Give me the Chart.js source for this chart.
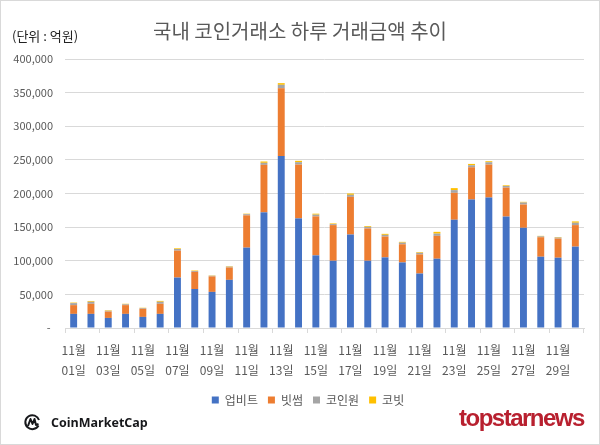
<!DOCTYPE html>
<html>
<head>
<meta charset="utf-8">
<script src="https://cdn.jsdelivr.net/npm/chart.js@4.4.1/dist/chart.umd.min.js"></script>
<style>
  body { margin: 0; background: #fff; }
  #frame { position: absolute; left: 0; top: 0; width: 600px; height: 445px; box-sizing: border-box; border: 1px solid #d9d9d9; pointer-events: none; }
  #wrap { position: absolute; left: 0; top: 0; width: 600px; height: 445px; }
  #title { position: absolute; left: 0; width: 600px; top: 16px; text-align: center; font-family: 'Noto Sans CJK KR', sans-serif; font-size: 20px; color: #595959; }
  #unit { position: absolute; left: 12px; top: 26px; font-family: 'Noto Sans CJK KR', sans-serif; font-size: 13px; color: #222; }
  #cmc { position: absolute; left: 24px; top: 413px; font-family: 'Open Sans', sans-serif; font-weight: bold; font-size: 12.5px; color: #17181b; display: flex; align-items: center; }
  #cmc svg { margin-right: 10px; }
  #tsn { position: absolute; left: 459px; top: 404px; font-family: 'Liberation Sans', sans-serif; font-weight: bold; font-size: 24px; letter-spacing: -1.5px; color: #b8202f; }
</style>
</head>
<body>
<div id="wrap"><canvas id="coinChart"></canvas></div>
<div id="title">국내 코인거래소 하루 거래금액 추이</div>
<div id="unit">(단위 : 억원)</div>
<div id="cmc">
  <svg width="17" height="19" viewBox="0 0 17 19">
    <path d="M14.5 12.5 A7 7 0 1 1 15 7" fill="none" stroke="#17181b" stroke-width="2"/>
    <path d="M4 13 L6.5 6 L8.5 11 L10.5 6 L12 12 L14.5 11" fill="none" stroke="#17181b" stroke-width="2" stroke-linejoin="round"/>
  </svg>CoinMarketCap</div>
<div id="tsn">topstarnews</div>
<div id="frame"></div>
<script>
// categories (one per day of November)
const days = [
  '11월 01일', '11월 02일', '11월 03일', '11월 04일', '11월 05일', '11월 06일',
  '11월 07일', '11월 08일', '11월 09일', '11월 10일', '11월 11일', '11월 12일',
  '11월 13일', '11월 14일', '11월 15일', '11월 16일', '11월 17일', '11월 18일',
  '11월 19일', '11월 20일', '11월 21일', '11월 22일', '11월 23일', '11월 24일',
  '11월 25일', '11월 26일', '11월 27일', '11월 28일', '11월 29일', '11월 30일'
];

// daily trading volume per exchange (억원)
const upbit = [21000, 21000, 15000, 21000, 16500, 21000, 75000, 58000, 53700, 71600,
  119500, 172000, 255600, 163000, 108000, 100000, 139000, 100000, 105000, 97500,
  81000, 103000, 161000, 191000, 194000, 165700, 149000, 106000, 104500, 121000];
const bithumb = [13000, 15000, 9400, 13000, 12000, 15000, 40000, 25500, 23000, 18400,
  48000, 70600, 101000, 80000, 58000, 53000, 56000, 48000, 31000, 27000,
  28400, 34000, 40000, 48000, 49000, 43000, 34600, 29000, 28500, 32000];
const coinone = [3000, 3000, 1200, 1200, 1000, 3000, 2500, 1300, 1000, 1200,
  1700, 3000, 5000, 3600, 2500, 1500, 3000, 2400, 2500, 2400,
  2400, 3300, 4000, 3000, 3500, 2500, 3000, 1300, 1500, 3500];
const korbit = [800, 1200, 800, 800, 600, 1300, 1000, 700, 500, 700,
  800, 2000, 2500, 2000, 1500, 1000, 2000, 1200, 1500, 1200,
  1000, 2700, 3000, 2000, 1500, 1000, 1000, 700, 800, 2000];

// y axis ticks
const yTicks = [0, 50000, 100000, 150000, 200000, 250000, 300000, 350000, 400000];

const seriesNames = ['업비트', '빗썸', '코인원', '코빗'];
const seriesColors = ['#4472C4', '#ED7D31', '#A5A5A5', '#FFC000'];

// nudge the legend a little to the right, like the original
const legendShift = {
  id: 'legendShift',
  afterLayout(chart) {
    chart.legend.left += 16;
    chart.legend.right += 16;
  }
};

document.addEventListener('DOMContentLoaded', () => {
  Chart.defaults.font.family = "'Noto Sans CJK KR', 'Noto Sans', sans-serif";
  Chart.defaults.color = '#595959';

  const ctx = document.getElementById('coinChart').getContext('2d');
  const allSeries = [upbit, bithumb, coinone, korbit];

  new Chart(ctx, {
    type: 'bar',
    data: {
      labels: days,
      datasets: allSeries.map((values, i) => ({
        label: seriesNames[i],
        data: values,
        backgroundColor: seriesColors[i],
        borderWidth: 0,
        categoryPercentage: 1,
        barPercentage: 0.4
      }))
    },
    plugins: [legendShift],
    options: {
      responsive: true,
      maintainAspectRatio: false,
      animation: false,
      layout: { padding: { top: 59, right: 16, bottom: 29, left: 0 } },
      plugins: {
        tooltip: { enabled: false },
        legend: {
          position: 'bottom',
          labels: {
            boxWidth: 7,
            boxHeight: 7,
            padding: 10,
            font: { size: 12 },
            color: '#595959'
          }
        }
      },
      scales: {
        x: {
          stacked: true,
          afterFit: (scale) => { scale.height = 56; },
          border: { color: '#d9d9d9' },
          grid: {
            offset: true,
            drawOnChartArea: false,
            tickLength: 5,
            tickColor: (c) => (c.index === undefined || c.index % 2 === 0) ? '#d9d9d9' : 'rgba(0,0,0,0)'
          },
          ticks: {
            autoSkip: false,
            maxRotation: 0,
            padding: 7.5,
            font: { size: 12, lineHeight: 1.65 },
            callback: function (value, index) {
              return index % 2 === 0 ? days[index].split(' ') : '';
            }
          }
        },
        y: {
          stacked: true,
          min: yTicks[0],
          max: yTicks[yTicks.length - 1],
          afterFit: (scale) => { scale.width = 65; },
          afterBuildTicks: (scale) => { scale.ticks = yTicks.map(v => ({ value: v })); },
          border: { display: false },
          grid: { color: '#d9d9d9', drawTicks: false },
          ticks: {
            padding: 12,
            font: { size: 11 },
            callback: (v) => v === 0 ? '- ' : v.toLocaleString('en-US')
          }
        }
      }
    }
  });
});
</script>
</body>
</html>
